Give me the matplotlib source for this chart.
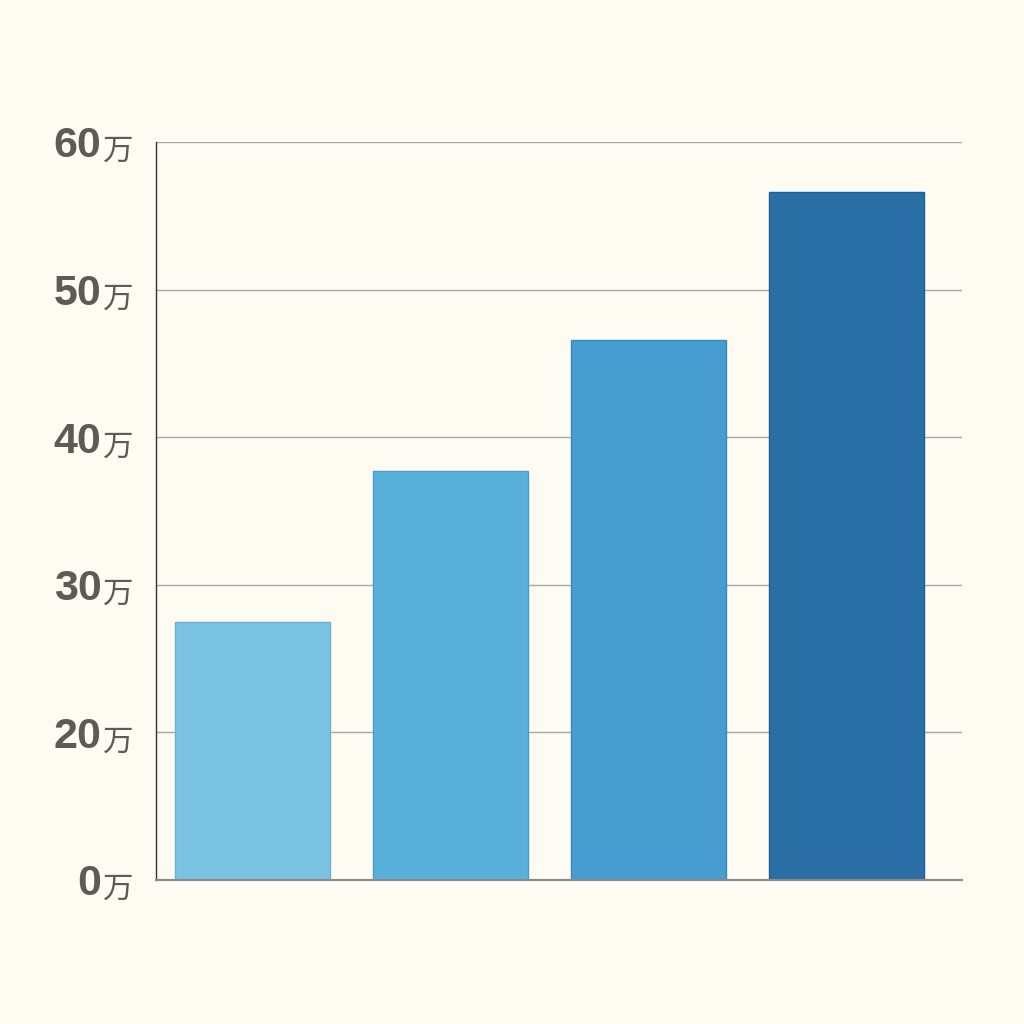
import matplotlib
matplotlib.use('Agg')
import matplotlib.pyplot as plt

# values in units of 万 (10,000)
categories = ['A', 'B', 'C', 'D']
values = [27.5, 37.7, 46.6, 56.6]
bar_colors = ['#7BC3E2', '#58B0DB', '#479DCF', '#2A70A6']
edge_colors = ['#6BB0CF', '#4A9CC6', '#3A88BA', '#1F5F93']

# tick positions and their labels (bottom tick is labelled 0)
tick_pos = [10, 20, 30, 40, 50, 60]
tick_labels = ['0', '20', '30', '40', '50', '60']
unit = '万'

bg = '#FEFBF2'
label_color = '#5C5C55'

fig = plt.figure(figsize=(10.24, 10.24), dpi=100, facecolor=bg)
ax = fig.add_axes([0.152, 0.1406, 0.787, 0.7207])
ax.set_facecolor(bg)

x = list(range(len(categories)))
ax.bar(x, values, width=0.78, color=bar_colors, edgecolor=edge_colors,
       linewidth=1, zorder=3)

ax.set_xlim(-0.49, 3.58)
ax.set_ylim(10, 60)
ax.set_xticks([])
ax.set_yticks(tick_pos)
ax.set_yticklabels([])
ax.tick_params(axis='y', length=0)
ax.yaxis.grid(True, color='#A8A8A8', linewidth=1, zorder=0)

for side in ['top', 'right']:
    ax.spines[side].set_visible(False)
ax.spines['left'].set_color('#333333')
ax.spines['left'].set_linewidth(1)
ax.spines['bottom'].set_color('#8A8A8A')
ax.spines['bottom'].set_linewidth(1.5)
ax.spines['bottom'].set_zorder(4)

trans = ax.get_yaxis_transform()
for pos, lab in zip(tick_pos, tick_labels):
    ax.annotate(lab, xy=(0, pos), xycoords=trans, xytext=(-39, -11),
                textcoords='offset points', ha='right', va='baseline',
                fontsize=31, fontweight='bold', family='Liberation Sans',
                color=label_color, annotation_clip=False)
    ax.annotate(unit, xy=(0, pos), xycoords=trans, xytext=(-16, -13),
                textcoords='offset points', ha='right', va='baseline',
                fontsize=22, family=['Noto Sans CJK SC', 'DejaVu Sans'],
                color=label_color, annotation_clip=False)

fig.savefig('out.png', dpi=100, facecolor=bg)
